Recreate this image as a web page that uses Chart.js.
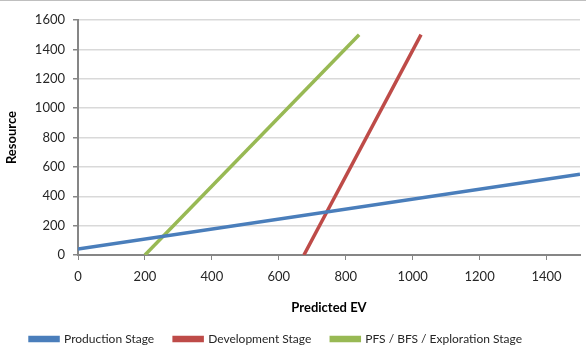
<!DOCTYPE html>
<html lang="en">
<head>
<meta charset="UTF-8">
<title>Resource vs Predicted EV</title>
<script src="https://cdn.jsdelivr.net/npm/chart.js"></script>
<style>
    html, body { margin: 0; padding: 0; background: #ffffff; }
    .wrap { width: 586px; height: 349px; border-top: 1px solid #bfbfbf; }
</style>
</head>
<body>
<div class="wrap"><canvas id="evChart" width="586" height="349"></canvas></div>
<script>
    // endpoints of each stage line (EV on x, resource on y)
    const seriesNames = ['Production Stage', 'Development Stage', 'PFS / BFS / Exploration Stage'];
    const productionEV = [0, 1500];
    const productionRes = [40, 550];
    const developmentEV = [675, 1025];
    const developmentRes = [0, 1500];
    const explorationEV = [200, 840];
    const explorationRes = [0, 1500];
    const xTicks = [0, 200, 400, 600, 800, 1000, 1200, 1400];
    const yTicks = [0, 200, 400, 600, 800, 1000, 1200, 1400, 1600];

    const colors = ['#4a7ebb', '#be4b48', '#98b954'];
    const toPoints = (xs, ys) => xs.map((x, i) => ({ x: x, y: ys[i] }));

    const sets = [
        toPoints(productionEV, productionRes),
        toPoints(developmentEV, developmentRes),
        toPoints(explorationEV, explorationRes)
    ];

    // legend sits a bit left of centre
    const legendNudge = {
        id: 'legendNudge',
        afterLayout(chart) {
            const lg = chart.legend;
            if (!lg) return;
            lg.left -= 14;
            lg.right -= 14;
        }
    };

    Chart.defaults.font.family = 'Lato, "Open Sans", sans-serif';
    Chart.defaults.font.size = 13;
    Chart.defaults.color = '#262626';

    new Chart(document.getElementById('evChart'), {
        type: 'scatter',
        data: {
            datasets: sets.map((pts, i) => ({
                label: seriesNames[i],
                data: pts,
                showLine: true,
                borderColor: colors[i],
                backgroundColor: colors[i],
                borderWidth: 3.5,
                pointRadius: 0,
                pointHoverRadius: 0
            }))
        },
        options: {
            responsive: false,
            animation: false,
            layout: { padding: { left: 0, right: 6, top: 19, bottom: -5 } },
            plugins: {
                tooltip: { enabled: false },
                legend: {
                    position: 'bottom',
                    labels: {
                        boxWidth: 28,
                        boxHeight: 3,
                        padding: 20,
                        color: '#262626',
                        font: { size: 12 }
                    }
                }
            },
            scales: {
                x: {
                    type: 'linear',
                    min: 0,
                    max: 1500,
                    afterBuildTicks: s => { s.ticks = xTicks.map(v => ({ value: v })); },
                    afterFit: s => { s.height = 58; },
                    border: { color: '#868686', width: 2 },
                    grid: { drawOnChartArea: false, tickLength: 5, tickColor: '#868686' },
                    ticks: { padding: 9, callback: v => String(v) },
                    title: {
                        display: true,
                        text: 'Predicted EV',
                        font: { weight: 'bold', size: 13 },
                        color: '#000000',
                        padding: { top: 6, bottom: -3 }
                    }
                },
                y: {
                    min: 0,
                    max: 1600,
                    afterBuildTicks: s => { s.ticks = yTicks.map(v => ({ value: v })); },
                    afterFit: s => { s.width = 78; },
                    border: { color: '#868686', width: 2 },
                    grid: { color: '#d9d9d9', lineWidth: 1.5, tickLength: 5, tickColor: '#868686' },
                    ticks: { padding: 8, callback: v => String(v) },
                    title: {
                        display: true,
                        text: 'Resource',
                        font: { weight: 'bold', size: 13 },
                        color: '#000000',
                        padding: { bottom: 2 }
                    }
                }
            }
        },
        plugins: [legendNudge]
    });
</script>
</body>
</html>
